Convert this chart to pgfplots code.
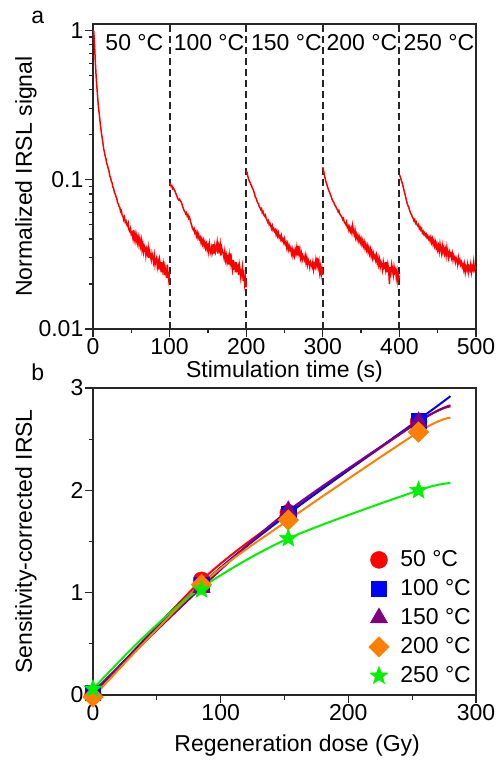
\documentclass[border=0pt]{standalone}
\usepackage{fontspec}
\setmainfont{Liberation Sans}
\usepackage{pgfplots}
\pgfplotsset{compat=1.18}
\definecolor{cred}{RGB}{255,0,0}
\definecolor{cblue}{RGB}{0,0,255}
\definecolor{cpurple}{RGB}{128,0,128}
\definecolor{corange}{RGB}{255,128,0}
\definecolor{cgreen}{RGB}{0,240,0}
\pgfdeclareplotmark{fstar}{%
  \pgfpathmoveto{\pgfpointpolar{90}{\pgfplotmarksize}}%
  \pgfpathlineto{\pgfpointpolar{126}{0.42\pgfplotmarksize}}%
  \pgfpathlineto{\pgfpointpolar{162}{\pgfplotmarksize}}%
  \pgfpathlineto{\pgfpointpolar{198}{0.42\pgfplotmarksize}}%
  \pgfpathlineto{\pgfpointpolar{234}{\pgfplotmarksize}}%
  \pgfpathlineto{\pgfpointpolar{270}{0.42\pgfplotmarksize}}%
  \pgfpathlineto{\pgfpointpolar{306}{\pgfplotmarksize}}%
  \pgfpathlineto{\pgfpointpolar{342}{0.42\pgfplotmarksize}}%
  \pgfpathlineto{\pgfpointpolar{18}{\pgfplotmarksize}}%
  \pgfpathlineto{\pgfpointpolar{54}{0.42\pgfplotmarksize}}%
  \pgfpathclose\pgfusepathqfillstroke}
\pgfplotsset{
  common/.style={
    scale only axis, width=383pt,
    axis line style={line width=1.4pt, black!85},
    tick align=outside, xtick pos=left, ytick pos=left,
    major tick length=8pt, minor tick length=4.5pt,
    every tick/.style={line width=1.3pt, black!85},
    /pgf/number format/assume math mode=true,
    tick label style={inner sep=1.5pt},
    every axis x label/.style={at={(axis description cs:0.5,-0.14)}, anchor=center},
    every axis y label/.style={at={(axis description cs:-0.175,0.5)}, anchor=center, rotate=90},
  },
  dline/.style={black!85, line width=2pt, dash pattern=on 7pt off 4pt},
}
\begin{document}
\fontsize{23}{28}\selectfont
\begin{tikzpicture}
\useasboundingbox (0pt,0pt) rectangle (503pt,-762pt);
% ---------------- panel a ----------------
\begin{axis}[common, height=305pt, at={(93pt,-24pt)}, anchor=north west,
  ymode=log, xmin=0, xmax=500, ymin=0.01, ymax=1.1, clip mode=individual,
  xtick={0,100,200,300,400,500}, minor x tick num=1,
  ytick={0.01,0.1,1}, yticklabels={0.01,0.1,1},
  xlabel={Stimulation time (s)}, ylabel={Normalized IRSL signal}]
\addplot[dline] coordinates {(100,0.01) (100,1.1)};
\addplot[dline] coordinates {(200,0.01) (200,1.1)};
\addplot[dline] coordinates {(300,0.01) (300,1.1)};
\addplot[dline] coordinates {(400,0.01) (400,1.1)};
\addplot[cred, line width=1.5pt] coordinates {
(0,1.00)(1,0.98)(2,0.80)(3,0.62)(4,0.50)(5,0.42)(6,0.36)(7,0.31)(8,0.28)(9,0.25)
(10,0.225)(11,0.205)(12,0.19)(13,0.175)(14,0.16)(15,0.152)(16,0.143)(17,0.137)(18,0.128)(19,0.124)
(20,0.118)(21,0.113)(22,0.105)(23,0.103)(24,0.097)(25,0.095)(26,0.089)(27,0.087)(28,0.082)(29,0.080)
(30,0.077)(31,0.075)(32,0.070)(33,0.069)(34,0.066)(35,0.065)(36,0.061)(37,0.062)(38,0.058)(39,0.057)
(40,0.054)(41,0.056)(42,0.052)(43,0.053)(44,0.050)(45,0.049)(46,0.051)(47,0.046)(48,0.045)(49,0.047)
(50,0.043)(51,0.044)(52,0.041)(53,0.046)(54,0.040)(55,0.043)(56,0.039)(57,0.042)(58,0.038)(59,0.041)
(60,0.037)(61,0.040)(62,0.036)(63,0.039)(64,0.034)(65,0.037)(66,0.033)(67,0.036)(68,0.035)(69,0.031)
(70,0.034)(71,0.032)(72,0.035)(73,0.030)(74,0.033)(75,0.031)(76,0.029)(77,0.032)(78,0.030)(79,0.028)
(80,0.031)(81,0.027)(82,0.029)(83,0.030)(84,0.026)(85,0.028)(86,0.025)(87,0.029)(88,0.027)(89,0.024)
(90,0.028)(91,0.025)(92,0.027)(93,0.023)(94,0.026)(95,0.024)(96,0.022)(97,0.027)(98,0.023)(99,0.021)(100,0.024)};
\addplot[cred, line width=1.5pt] coordinates {
(100,0.095)(101,0.093)(102,0.090)(103,0.091)(104,0.087)(105,0.088)(106,0.085)(107,0.084)(108,0.081)(109,0.079)
(110,0.076)(111,0.074)(112,0.073)(113,0.074)(114,0.072)(115,0.071)(116,0.069)(117,0.066)(118,0.064)(119,0.062)
(120,0.061)(121,0.059)(122,0.060)(123,0.057)(124,0.058)(125,0.055)(126,0.056)(127,0.053)(128,0.051)(129,0.049)
(130,0.047)(131,0.046)(132,0.047)(133,0.044)(134,0.045)(135,0.042)(136,0.044)(137,0.041)(138,0.043)(139,0.040)
(140,0.041)(141,0.038)(142,0.040)(143,0.037)(144,0.039)(145,0.036)(146,0.038)(147,0.035)(148,0.037)(149,0.034)
(150,0.036)(151,0.033)(152,0.037)(153,0.034)(154,0.032)(155,0.035)(156,0.033)(157,0.037)(158,0.032)(159,0.036)
(160,0.033)(161,0.035)(162,0.038)(163,0.032)(164,0.036)(165,0.034)(166,0.037)(167,0.031)(168,0.035)(169,0.033)
(170,0.032)(171,0.030)(172,0.033)(173,0.029)(174,0.031)(175,0.028)(176,0.030)(177,0.027)(178,0.031)(179,0.028)
(180,0.032)(181,0.027)(182,0.025)(183,0.029)(184,0.026)(185,0.027)(186,0.024)(187,0.028)(188,0.025)(189,0.026)
(190,0.023)(191,0.027)(192,0.025)(193,0.022)(194,0.024)(195,0.026)(196,0.021)(197,0.023)(198,0.020)(199,0.022)(200,0.019)};
\addplot[cred, line width=1.5pt] coordinates {
(200,0.114)(201,0.112)(202,0.106)(203,0.101)(204,0.098)(205,0.096)(206,0.093)(207,0.091)(208,0.088)(209,0.086)
(210,0.083)(211,0.080)(212,0.076)(213,0.075)(214,0.072)(215,0.070)(216,0.069)(217,0.066)(218,0.065)(219,0.063)
(220,0.064)(221,0.060)(222,0.061)(223,0.058)(224,0.057)(225,0.058)(226,0.055)(227,0.054)(228,0.052)(229,0.053)
(230,0.050)(231,0.051)(232,0.049)(233,0.047)(234,0.049)(235,0.046)(236,0.047)(237,0.045)(238,0.046)(239,0.043)
(240,0.045)(241,0.042)(242,0.044)(243,0.041)(244,0.042)(245,0.040)(246,0.042)(247,0.039)(248,0.040)(249,0.038)
(250,0.040)(251,0.037)(252,0.038)(253,0.035)(254,0.037)(255,0.034)(256,0.036)(257,0.034)(258,0.035)(259,0.032)
(260,0.034)(261,0.031)(262,0.033)(263,0.031)(264,0.034)(265,0.032)(266,0.035)(267,0.031)(268,0.036)(269,0.032)
(270,0.034)(271,0.030)(272,0.032)(273,0.029)(274,0.031)(275,0.030)(276,0.029)(277,0.031)(278,0.028)(279,0.030)
(280,0.027)(281,0.029)(282,0.028)(283,0.026)(284,0.028)(285,0.027)(286,0.026)(287,0.028)(288,0.025)(289,0.027)
(290,0.026)(291,0.029)(292,0.027)(293,0.030)(294,0.026)(295,0.028)(296,0.024)(297,0.026)(298,0.023)(299,0.025)(300,0.023)};
\addplot[cred, line width=1.5pt] coordinates {
(300,0.121)(301,0.115)(302,0.108)(303,0.102)(304,0.097)(305,0.094)(306,0.090)(307,0.087)(308,0.084)(309,0.082)
(310,0.079)(311,0.077)(312,0.074)(313,0.072)(314,0.071)(315,0.069)(316,0.067)(317,0.066)(318,0.064)(319,0.063)
(320,0.061)(321,0.062)(322,0.059)(323,0.058)(324,0.057)(325,0.056)(326,0.054)(327,0.055)(328,0.052)(329,0.051)
(330,0.050)(331,0.052)(332,0.048)(333,0.049)(334,0.046)(335,0.048)(336,0.045)(337,0.047)(338,0.044)(339,0.049)
(340,0.045)(341,0.043)(342,0.046)(343,0.041)(344,0.043)(345,0.040)(346,0.042)(347,0.039)(348,0.041)(349,0.038)
(350,0.040)(351,0.037)(352,0.039)(353,0.036)(354,0.038)(355,0.035)(356,0.037)(357,0.034)(358,0.036)(359,0.033)
(360,0.035)(361,0.032)(362,0.034)(363,0.031)(364,0.033)(365,0.030)(366,0.032)(367,0.030)(368,0.031)(369,0.029)
(370,0.031)(371,0.028)(372,0.030)(373,0.027)(374,0.029)(375,0.026)(376,0.028)(377,0.027)(378,0.025)(379,0.028)
(380,0.026)(381,0.027)(382,0.025)(383,0.028)(384,0.024)(385,0.027)(386,0.025)(387,0.020)(388,0.026)(389,0.024)
(390,0.027)(391,0.025)(392,0.023)(393,0.026)(394,0.024)(395,0.025)(396,0.022)(397,0.024)(398,0.021)(399,0.023)(400,0.022)};
\addplot[cred, line width=1.5pt] coordinates {
(400,0.108)(401,0.105)(402,0.101)(403,0.097)(404,0.094)(405,0.089)(406,0.085)(407,0.081)(408,0.077)(409,0.073)
(410,0.070)(411,0.067)(412,0.066)(413,0.063)(414,0.061)(415,0.059)(416,0.058)(417,0.056)(418,0.055)(419,0.053)
(420,0.054)(421,0.051)(422,0.052)(423,0.050)(424,0.049)(425,0.050)(426,0.047)(427,0.048)(428,0.046)(429,0.047)
(430,0.044)(431,0.045)(432,0.043)(433,0.044)(434,0.042)(435,0.043)(436,0.041)(437,0.042)(438,0.040)(439,0.041)
(440,0.039)(441,0.041)(442,0.038)(443,0.040)(444,0.037)(445,0.039)(446,0.036)(447,0.038)(448,0.035)(449,0.037)
(450,0.034)(451,0.036)(452,0.033)(453,0.037)(454,0.034)(455,0.032)(456,0.036)(457,0.033)(458,0.035)(459,0.032)
(460,0.034)(461,0.031)(462,0.035)(463,0.032)(464,0.030)(465,0.033)(466,0.031)(467,0.032)(468,0.030)(469,0.032)
(470,0.029)(471,0.031)(472,0.030)(473,0.028)(474,0.030)(475,0.029)(476,0.027)(477,0.030)(478,0.028)(479,0.029)
(480,0.027)(481,0.028)(482,0.026)(483,0.027)(484,0.025)(485,0.027)(486,0.024)(487,0.026)(488,0.025)(489,0.027)
(490,0.024)(491,0.026)(492,0.025)(493,0.027)(494,0.024)(495,0.026)(496,0.025)(497,0.028)(498,0.025)(499,0.026)(500,0.025)};
\node at (axis cs:54,0.82) {50 °C};
\node at (axis cs:151.5,0.82) {100 °C};
\node at (axis cs:252.5,0.82) {150 °C};
\node at (axis cs:351,0.82) {200 °C};
\node at (axis cs:451.5,0.82) {250 °C};
\node at (axis description cs:-0.144,1.023) {a};
\end{axis}
% ---------------- panel b ----------------
\begin{axis}[common, height=307pt, at={(93pt,-388pt)}, anchor=north west,
  xmin=0, xmax=300, ymin=0, ymax=3, clip=false,
  xtick={0,100,200,300}, minor x tick num=1,
  ytick={0,1,2,3}, minor y tick num=1,
  xlabel={Regeneration dose (Gy)}, ylabel={Sensitivity-corrected IRSL},
  every axis x label/.style={at={(axis description cs:0.533,-0.166)}, anchor=center},
  legend style={draw=none, fill=none, at={(axis description cs:0.995,0.02)}, anchor=south east,
    inner sep=1pt, row sep=5.5pt, column sep=9pt, font=\fontsize{23}{28}\selectfont},
  legend cell align=left]
\addplot[cred, line width=2pt, smooth, forget plot] coordinates {(0,0.00)(85,1.12)(153,1.78)(255,2.67)(280,2.82)};
\addplot[cblue, line width=2pt, smooth, forget plot] coordinates {(0,0.02)(85,1.08)(153,1.77)(255,2.69)(280,2.92)};
\addplot[cpurple, line width=2pt, smooth, forget plot] coordinates {(0,0.03)(85,1.05)(153,1.80)(255,2.67)(280,2.83)};
\addplot[corange, line width=2pt, smooth, forget plot] coordinates {(0,-0.02)(85,1.08)(153,1.71)(255,2.57)(280,2.71)};
\addplot[cgreen, line width=2pt, smooth, forget plot] coordinates {(0,0.06)(40,0.57)(85,1.05)(153,1.53)(255,2.00)(280,2.07)};
\addplot[only marks, mark=*, mark size=8.5pt, color=cred] coordinates {(0,0.00)(85,1.12)(153,1.78)(255,2.67)};
\addlegendentry{50 °C}
\addplot[only marks, mark=square*, mark size=7.5pt, color=cblue] coordinates {(0,0.02)(85,1.08)(153,1.77)(255,2.68)};
\addlegendentry{100 °C}
\addplot[only marks, mark=triangle*, mark size=10pt, color=cpurple] coordinates {(0,0.03)(85,1.05)(153,1.80)(255,2.67)};
\addlegendentry{150 °C}
\addplot[only marks, mark=square*, mark size=7.3pt, mark options={rotate=45}, color=corange] coordinates {(0,-0.02)(85,1.08)(153,1.71)(255,2.57)};
\addlegendentry{200 °C}
\addplot[only marks, mark=fstar, mark size=9.5pt, color=cgreen] coordinates {(0,0.06)(85,1.03)(153,1.53)(255,2.00)};
\addlegendentry{250 °C}
\node at (axis description cs:-0.144,1.052) {b};
\end{axis}
\end{tikzpicture}
\end{document}
